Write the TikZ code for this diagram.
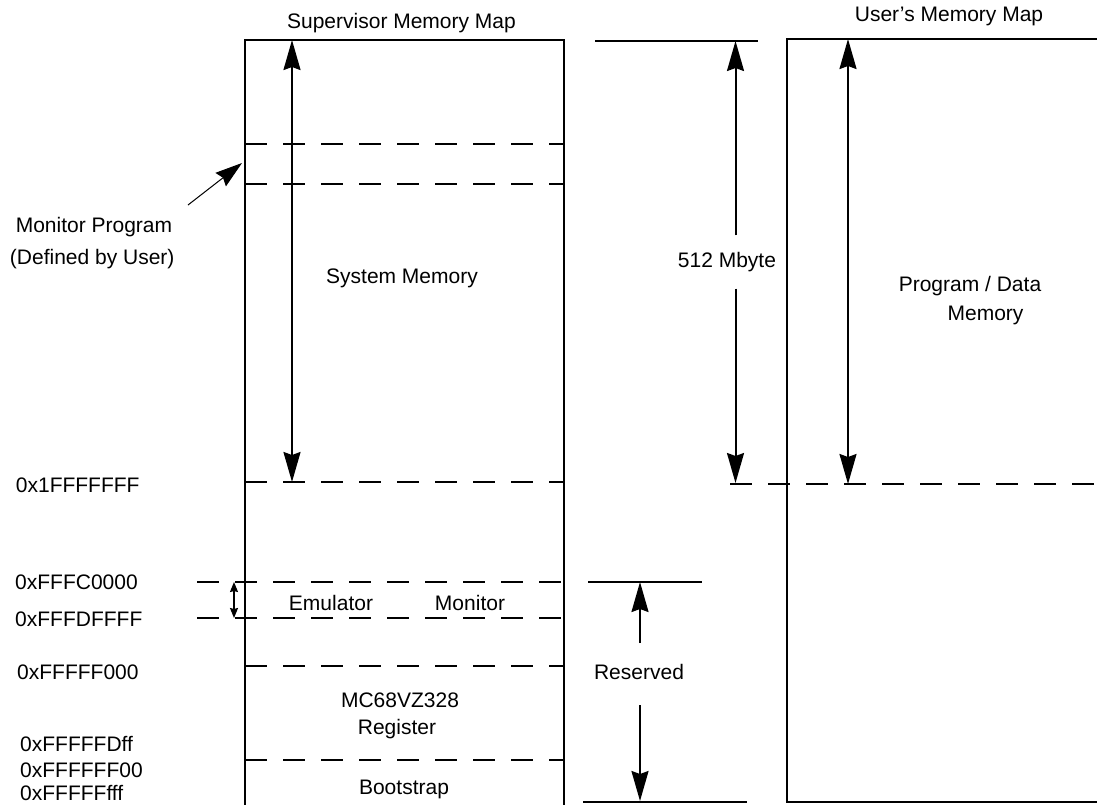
\documentclass[tikz,border=0pt]{standalone}
\usepackage{fontspec}
\setmainfont{Liberation Sans}
\usetikzlibrary{arrows.meta}
\begin{document}
\begin{tikzpicture}[x=1pt,y=-1pt,
  solidline/.style={line width=2pt},
  dashline/.style={line width=2pt,dash pattern=on 22pt off 16pt},
  dimarrow/.style={line width=2pt,-{Stealth[length=30pt,width=17pt,inset=3pt]}},
  dimboth/.style={line width=2pt,{Stealth[length=30pt,width=17pt,inset=3pt]}-{Stealth[length=30pt,width=17pt,inset=3pt]}},
  smallboth/.style={line width=1.5pt,{Stealth[length=10pt,width=8pt,inset=1pt]}-{Stealth[length=10pt,width=8pt,inset=1pt]}},
  pointer/.style={line width=1pt,-{Stealth[length=27pt,width=17pt,inset=3pt]}},
  lbl/.style={font=\fontsize{21}{25}\selectfont,inner sep=0pt,text height=15pt,text depth=0pt},
  addr/.style={lbl,anchor=west}]
\useasboundingbox (0,0) rectangle (1097,804);
\clip (0,0) rectangle (1097,804);
\fill[white] (0,0) rectangle (1097,804);

% titles
\node[lbl] (suptitle) at (401.5,21) {Supervisor Memory Map};
\node[lbl] (usrtitle) at (949,14) {User’s Memory Map};

% supervisor box
\draw[solidline] (245,815) -- (245,40) -- (564,40) -- (564,815);
\draw[dashline] (245,144) -- (564,144);
\draw[dashline] (245,184) -- (564,184);
\draw[dashline] (245,482) -- (564,482);
\draw[dashline] (197,582) -- (564,582);
\draw[dashline] (197,618) -- (564,618);
\draw[dashline] (245,666) -- (564,666);
\draw[dashline] (245,760) -- (564,760);

% system memory arrow
\coordinate (smtop) at (292,40);
\coordinate (smbot) at (292,482);
\draw[dimboth] (smtop) -- (smbot);
\node[lbl] (sysmem) at (402,276) {System Memory};

% monitor program pointer
\node[lbl] (monprog) at (94,225) {Monitor Program};
\node[lbl] (defuser) at (92.2,256.7) {(Defined by User)};
\coordinate (ptail) at (188,205);
\coordinate (ptip) at (242,163);
\draw[pointer] (ptail) -- (ptip);

% emulator monitor small arrow
\coordinate (emtop) at (234,582);
\coordinate (embot) at (234,618);
\draw[smallboth] (emtop) -- (embot);
\node[lbl] (emul) at (331,603) {Emulator};
\node[lbl] (moni) at (470,603) {Monitor};
\node[lbl] (mc) at (400,700) {MC68VZ328};
\node[lbl] (reg) at (397,727) {Register};
\node[lbl] (boot) at (404,787) {Bootstrap};

% address labels
\node[addr] (a1) at (15.7,485) {0x1FFFFFFF};
\node[addr] (a2) at (15,582.3) {0xFFFC0000};
\node[addr] (a3) at (15,619.3) {0xFFFDFFFF};
\node[addr] (a4) at (17,671.7) {0xFFFFF000};
\node[addr] (a5) at (20,744) {0xFFFFFDff};
\node[addr] (a6) at (20,770) {0xFFFFFF00};
\node[addr] (a7) at (20,792.5) {0xFFFFFfff};

% 512 Mbyte dimension
\draw[solidline] (595,41) -- (758,41);
\node[lbl] (mb) at (727,260) {512 Mbyte};
\coordinate (mbtop) at (735.5,41);
\coordinate (mbbot) at (735.5,483);
\draw[dimarrow] (mb.north -| mbtop) ++(0,-17) -- (mbtop);
\draw[dimarrow] (mb.south -| mbbot) ++(0,21) -- (mbbot);
\draw[dashline] (730,484) -- (1100,484);

% user box
\draw[solidline] (1110,39) -- (787,39) -- (787,802) -- (1110,802);
\coordinate (ustop) at (848,39);
\coordinate (usbot) at (848,484);
\draw[dimboth] (ustop) -- (usbot);
\node[lbl] (pd1) at (970,284) {Program / Data};
\node[lbl] (pd2) at (985.5,313) {Memory};

% reserved dimension
\draw[solidline] (588,582) -- (702,582);
\draw[solidline] (583,802) -- (747,802);
\node[lbl] (resv) at (639,672) {Reserved};
\coordinate (rtop) at (640,582);
\coordinate (rbot) at (640,801);
\draw[dimarrow] (640,643) -- (rtop);
\draw[dimarrow] (640,705) -- (rbot);
\end{tikzpicture}
\end{document}
